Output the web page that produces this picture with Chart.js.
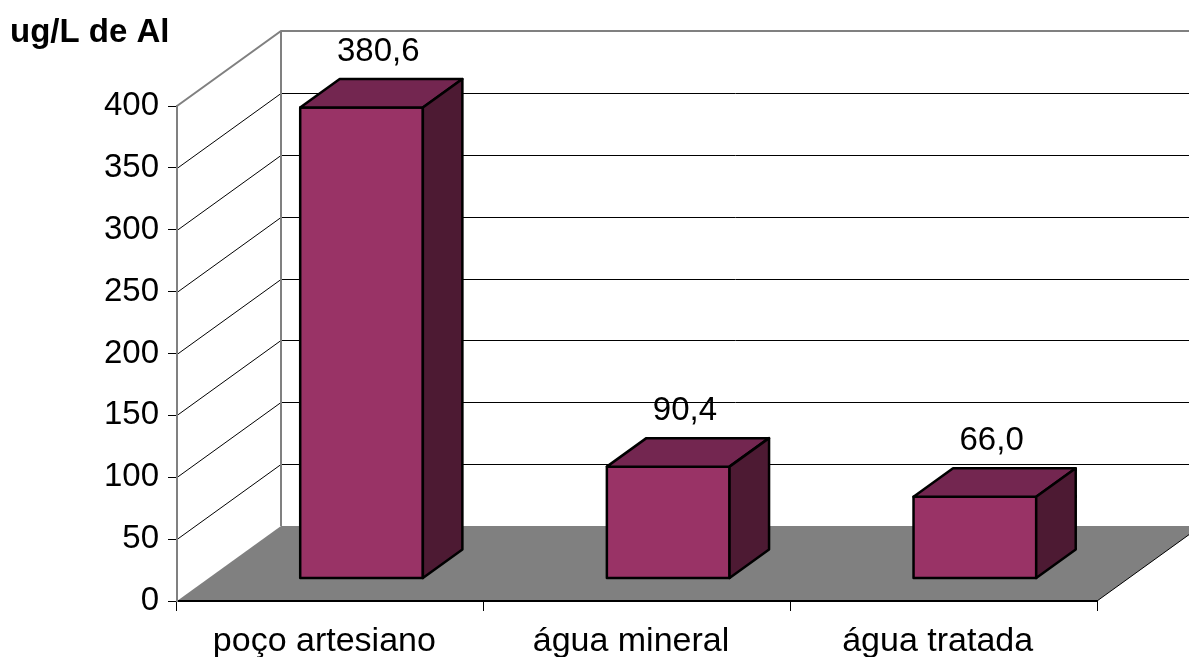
<!DOCTYPE html>
<html>
<head>
<meta charset="utf-8">
<script src="https://cdn.jsdelivr.net/npm/chart.js@4"></script>
<style>
  html, body { margin: 0; padding: 0; background: #fff; }
  #wrap { width: 1189px; height: 657px; position: relative; }
</style>
</head>
<body>
<div id="wrap"><canvas id="chart"></canvas></div>
<script>
// Aluminium concentration per water source
const categories = ['poço artesiano', 'água mineral', 'água tratada'];
const values = [380.6, 90.4, 66.0];
const yTicks = [0, 50, 100, 150, 200, 250, 300, 350, 400];
const unitLabel = 'ug/L de Al';

const FONT = "'Liberation Sans', Arial, sans-serif";
const frontColor = '#993366';
const topColor = '#732650';
const sideColor = '#4D1A33';

// oblique depth of the plot box and where the bars sit inside it
const depth = { dx: 104, dy: 75, front: 0.3, back: 0.68 };

const fmt = v => v.toFixed(1).replace('.', ',');

const box3d = {
  id: 'box3d',
  beforeDraw(chart) {
    const { ctx, chartArea: a, scales: { y } } = chart;
    const dx = depth.dx, dy = depth.dy;
    ctx.save();
    // gridlines running along the side wall and across the back wall
    ctx.lineWidth = 1;
    ctx.strokeStyle = '#000';
    y.ticks.forEach(t => {
      if (t.value === y.min || t.value === y.max) return;
      const py = Math.round(y.getPixelForValue(t.value)) + 0.5;
      ctx.beginPath();
      ctx.moveTo(a.left, py);
      ctx.lineTo(a.left + dx, py - dy);
      ctx.lineTo(a.right + dx, py - dy);
      ctx.stroke();
    });
    // wall edges
    ctx.strokeStyle = '#808080';
    ctx.lineWidth = 2;
    ctx.beginPath();
    ctx.moveTo(a.left, a.top);
    ctx.lineTo(a.left + dx, a.top - dy);
    ctx.lineTo(a.right + dx, a.top - dy);
    ctx.moveTo(a.left + dx, a.top - dy);
    ctx.lineTo(a.left + dx, a.bottom - dy);
    ctx.stroke();
    // floor
    ctx.fillStyle = '#808080';
    ctx.beginPath();
    ctx.moveTo(a.left, a.bottom);
    ctx.lineTo(a.right, a.bottom);
    ctx.lineTo(a.right + dx, a.bottom - dy);
    ctx.lineTo(a.left + dx, a.bottom - dy);
    ctx.closePath();
    ctx.fill();
    ctx.strokeStyle = '#000';
    ctx.lineWidth = 1;
    ctx.beginPath();
    ctx.moveTo(a.right, a.bottom);
    ctx.lineTo(a.right + dx, a.bottom - dy);
    ctx.stroke();
    // unit caption above the value axis
    ctx.fillStyle = '#000';
    ctx.font = `bold 33px ${FONT}`;
    ctx.textAlign = 'left';
    ctx.textBaseline = 'alphabetic';
    ctx.fillText(unitLabel, 10, 42);
    ctx.restore();
  },
  beforeDatasetDraw(chart) {
    chart.ctx.save();
    chart.ctx.translate(depth.dx * depth.front, -depth.dy * depth.front);
  },
  afterDatasetDraw(chart, args) {
    const ctx = chart.ctx;
    ctx.restore();
    const fx = depth.dx * depth.front, fy = depth.dy * depth.front;
    const bx = depth.dx * depth.back, by = depth.dy * depth.back;
    args.meta.data.forEach((bar, i) => {
      const { x, y, base, width } = bar.getProps(['x', 'y', 'base', 'width'], true);
      const l = x - width / 2, r = x + width / 2;
      ctx.save();
      ctx.lineWidth = 2.5;
      ctx.strokeStyle = '#000';
      ctx.lineJoin = 'round';
      // front outline
      ctx.strokeRect(l + fx, y - fy, width, base - y);
      // top face
      ctx.fillStyle = topColor;
      ctx.beginPath();
      ctx.moveTo(l + fx, y - fy);
      ctx.lineTo(r + fx, y - fy);
      ctx.lineTo(r + bx, y - by);
      ctx.lineTo(l + bx, y - by);
      ctx.closePath();
      ctx.fill();
      ctx.stroke();
      // right face
      ctx.fillStyle = sideColor;
      ctx.beginPath();
      ctx.moveTo(r + fx, y - fy);
      ctx.lineTo(r + bx, y - by);
      ctx.lineTo(r + bx, base - by);
      ctx.lineTo(r + fx, base - fy);
      ctx.closePath();
      ctx.fill();
      ctx.stroke();
      // value label
      ctx.fillStyle = '#000';
      ctx.font = `33px ${FONT}`;
      ctx.textAlign = 'center';
      ctx.textBaseline = 'alphabetic';
      ctx.fillText(fmt(values[i]), x + (fx + bx) / 2 - 3, y - by - 18);
      ctx.restore();
    });
  }
};

new Chart(document.getElementById('chart'), {
  type: 'bar',
  data: {
    labels: categories,
    datasets: [{
      data: values,
      backgroundColor: frontColor,
      borderWidth: 0,
      barPercentage: 0.8,
      categoryPercentage: 0.5
    }]
  },
  plugins: [box3d],
  options: {
    responsive: true,
    maintainAspectRatio: false,
    animation: false,
    layout: { padding: { top: 106, right: 92, left: 0, bottom: 0 } },
    plugins: { legend: { display: false }, tooltip: { enabled: false }, title: { display: false } },
    scales: {
      x: {
        grid: { offset: true, drawOnChartArea: false, tickLength: 10, color: '#000', lineWidth: 1 },
        border: { color: '#000', width: 2 },
        ticks: { font: { size: 34, family: FONT }, color: '#000', padding: 10, maxRotation: 0, labelOffset: -6 },
        afterFit(s) { s.height = 56; }
      },
      y: {
        min: yTicks[0],
        max: yTicks[yTicks.length - 1],
        ticks: { stepSize: yTicks[1] - yTicks[0], font: { size: 33, family: FONT }, color: '#000', padding: 9 },
        grid: { drawOnChartArea: false, tickLength: 9, color: '#000', lineWidth: 1 },
        border: { color: '#808080', width: 2 },
        afterFit(s) { s.width = 177; }
      }
    }
  }
});
</script>
</body>
</html>
